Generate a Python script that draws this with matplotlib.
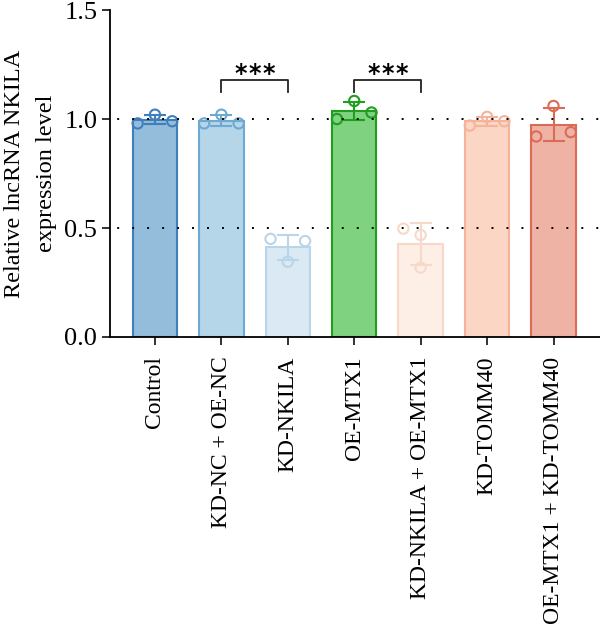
import numpy as np
import matplotlib
matplotlib.use('Agg')
import matplotlib.pyplot as plt

groups = ['Control', 'KD-NC + OE-NC', 'KD-NKILA', 'OE-MTX1',
          'KD-NKILA + OE-MTX1', 'KD-TOMM40', 'OE-MTX1 + KD-TOMM40']
# replicate values, in left / centre / right order as drawn
points = [
    [0.98, 1.02, 0.99],
    [0.98, 1.02, 0.98],
    [0.45, 0.345, 0.44],
    [1.00, 1.083, 1.03],
    [0.497, 0.468, 0.318],
    [0.97, 1.01, 0.99],
    [0.92, 1.06, 0.94],
]
jitter = [
    [-1, 0, 1],
    [-1, 0, 1],
    [-1, 0, 1],
    [-1, 0, 1],
    [-1, 0, 0],
    [-1, 0, 1],
    [-1, 0, 1],
]
fills = ['#94bcdb', '#b5d5e9', '#dae9f4', '#7fd27f', '#fdeee6', '#fbd6c5', '#eeb3a5']
edges = ['#3f7fbc', '#6ea9d2', '#b8d5ea', '#1f9e1f', '#f8d8c8', '#f4b39a', '#db6b57']
sig_pairs = [(1, 2), (3, 4)]

plt.rcParams['font.family'] = ['Liberation Serif', 'DejaVu Serif']

fig = plt.figure(figsize=(6, 6.31), dpi=100)
ax = fig.add_axes([0.183, 0.466, 0.817, 0.518])

x = np.arange(len(groups))
means = [np.mean(p) for p in points]
sds = [np.std(p, ddof=1) for p in points]
w = 0.67

ax.bar(x, means, width=w, color=fills, edgecolor=edges, linewidth=1.5, zorder=2)
for i in range(len(groups)):
    ax.errorbar(x[i], means[i], yerr=sds[i], color=edges[i], capsize=8,
                elinewidth=1.5, capthick=1.5, zorder=3)
    xs = x[i] + np.array(jitter[i]) * 0.26
    ax.scatter(xs, points[i], s=55, facecolors='none', edgecolors=edges[i],
               linewidths=1.5, zorder=4)

for yv in [0.5, 1.0]:
    ax.axhline(yv, color='black', linestyle=(4, (1, 6.7)), linewidth=1.4, zorder=5)

# brackets with three spaced asterisks
for a, b in sig_pairs:
    ax.plot([a, a, b, b], [1.125, 1.18, 1.18, 1.125], color='#222222', lw=1.3, zorder=5)
    for off in [-10, 0, 10]:
        ax.annotate('*', xy=((a + b) / 2, 1.205), xytext=(off, 0),
                    textcoords='offset points', ha='center', va='center',
                    fontsize=17, family='DejaVu Sans', fontweight='bold')

ax.set_xlim(-0.68, 6.70)
ax.set_ylim(0, 1.5)
ax.set_yticks([0, 0.5, 1.0, 1.5])
ax.set_yticklabels(['0.0', '0.5', '1.0', '1.5'])
ax.set_xticks(x)
ax.set_xticklabels(groups, rotation=90)
ax.tick_params(axis='both', width=1.3, length=6, color='#222222')
ax.tick_params(axis='x', labelsize=17, pad=8)
ax.tick_params(axis='y', labelsize=19, pad=3)
ax.set_ylabel('Relative lncRNA NKILA\nexpression level', fontsize=17.5,
              linespacing=1.7, labelpad=5)

ax.spines['top'].set_visible(False)
ax.spines['right'].set_visible(False)
ax.spines['left'].set_linewidth(1.3)
ax.spines['bottom'].set_linewidth(1.3)

fig.savefig('out.png', dpi=100)
